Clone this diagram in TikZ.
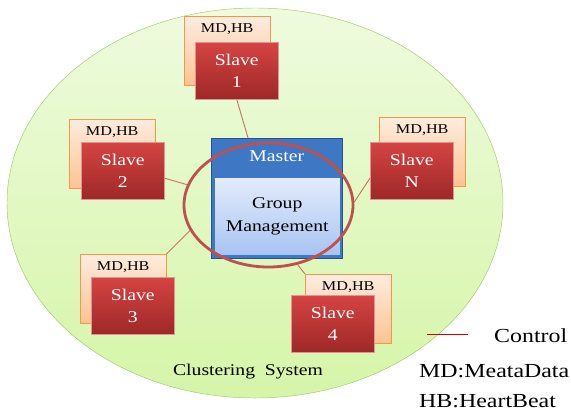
\documentclass[tikz,border=0pt]{standalone}
\usepackage{fontspec}
\setmainfont{Liberation Serif}[FakeStretch=1.2]
\usepackage{tikz}
\usetikzlibrary{shapes.geometric,backgrounds}

\definecolor{clusterTop}{RGB}{238,251,222}
\definecolor{clusterBot}{RGB}{214,245,168}
\definecolor{clusterEdge}{RGB}{165,200,115}
\definecolor{dataTop}{RGB}{253,236,222}
\definecolor{dataBot}{RGB}{251,196,146}
\definecolor{dataEdge}{RGB}{247,150,70}
\definecolor{slaveTop}{RGB}{212,68,66}
\definecolor{slaveBot}{RGB}{158,40,40}
\definecolor{slaveEdge}{RGB}{222,150,148}
\definecolor{masterBlue}{RGB}{62,120,196}
\definecolor{masterEdge}{RGB}{40,82,150}
\definecolor{groupTop}{RGB}{228,236,252}
\definecolor{groupBot}{RGB}{168,196,242}
\definecolor{ctrlRed}{RGB}{192,80,77}
\definecolor{linkRed}{RGB}{200,118,100}

\begin{document}
\begin{tikzpicture}[
x=0.03cm, y=-0.03cm,
DataBox/.style={draw=dataEdge,top color=dataTop,bottom color=dataBot,anchor=north west,inner sep=0pt,minimum width=2.58cm,minimum height=2.07cm},
DataLabel/.style={anchor=north,inner sep=2pt,yshift=-4pt,font=\fontsize{11.5}{14}\selectfont},
SlaveBox/.style={draw=slaveEdge,top color=slaveTop,bottom color=slaveBot,anchor=north west,inner sep=0pt,minimum width=2.49cm,minimum height=1.71cm,text=white,align=center,font=\fontsize{14}{19}\selectfont},
MasterBox/.style={draw=masterEdge,fill=masterBlue,anchor=north west,inner sep=0pt,minimum width=3.93cm,minimum height=3.6cm},
MasterLabel/.style={anchor=north,text=white,yshift=-7pt,font=\fontsize{14}{17}\selectfont},
GroupBox/.style={draw=masterBlue,top color=groupTop,bottom color=groupBot,anchor=north west,inner sep=0pt,minimum width=3.78cm,minimum height=2.34cm,align=center,font=\fontsize{14}{19}\selectfont},
CtrlRing/.style={ellipse,draw=ctrlRed,line width=2.4pt,inner sep=0pt,minimum width=5.07cm,minimum height=3.72cm},
Link/.style={draw=linkRed,line width=0.8pt},
Legend/.style={anchor=base west,inner sep=0pt,font=\fontsize{17}{20}\selectfont}
]
\useasboundingbox (0,0) rectangle (571,412);

% the cluster
\begin{scope}[on background layer]
\draw[clusterEdge,top color=clusterTop,bottom color=clusterBot] (255,203) ellipse [x radius=7.44cm, y radius=5.85cm];
\end{scope}

\node[font=\fontsize{14}{17}\selectfont] (cluster) at (248,372) {Clustering~~System};

% slaves, each with its MD,HB store behind
\node[DataBox,label={[DataLabel]north:{MD,HB}}] (md1) at (184,16) {};
\node[SlaveBox] (slave1) at (195,42) {Slave\\1};

\node[DataBox,label={[DataLabel]north:{MD,HB}}] (md2) at (69,119) {};
\node[SlaveBox] (slave2) at (81,142) {Slave\\2};

\node[DataBox,label={[DataLabel]north:{MD,HB}}] (mdN) at (379,117) {};
\node[SlaveBox] (slaveN) at (370,142) {Slave\\N};

\node[DataBox,label={[DataLabel]north:{MD,HB}}] (md3) at (80,254) {};
\node[SlaveBox] (slave3) at (91,277) {Slave\\3};

\node[DataBox,label={[DataLabel]north:{MD,HB}}] (md4) at (305,274) {};
\node[SlaveBox] (slave4) at (291,295) {Slave\\4};

% master
\node[MasterBox,label={[MasterLabel]north:Master}] (master) at (211,138) {};
\node[GroupBox] (group) at (214,177) {Group\\Management};
\node[CtrlRing] (ring) at (268.5,205) {};

% control links
\begin{scope}[on background layer]
\draw[Link] (slave1.south) -- (ring.107);
\draw[Link] (slave2.350) -- (ring.166);
\draw[Link] (slaveN.190) -- (ring.2);
\draw[Link] (md3.north east) -- (ring.198);
\draw[Link] (md4.north west) -- (ring.296);
\end{scope}

% legend
\coordinate (keyA) at (427,334);
\coordinate (keyB) at (468,334);
\draw[red!85!black,line width=0.8pt] (keyA) -- (keyB);
\node[Legend] (keyCtrl) at (494,342) {Control};
\node[Legend] (keyMD) at (419,377) {MD:MeataData};
\node[Legend] (keyHB) at (419,407) {HB:HeartBeat};

\end{tikzpicture}
\end{document}
